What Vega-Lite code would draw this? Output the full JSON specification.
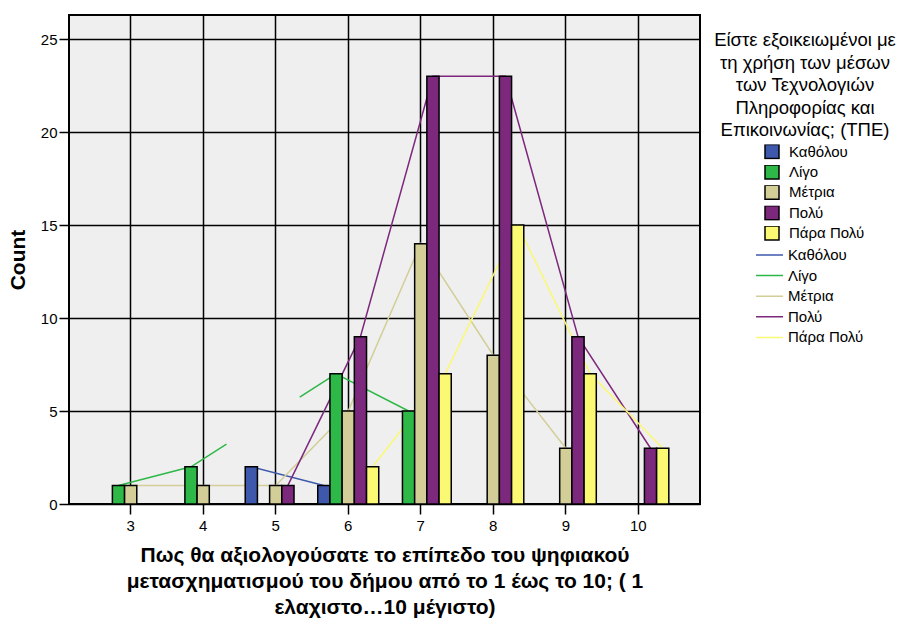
{
  "$schema": "https://vega.github.io/schema/vega-lite/v6.json",
  "width": 631,
  "height": 489,
  "autosize": {"type": "none"},
  "padding": {"left": 69, "top": 15, "right": 212, "bottom": 115},
  "background": "white",
  "config": {
    "font": "Liberation Sans",
    "view": {"fill": "#EFEFEF", "stroke": "black", "strokeWidth": 2},
    "axis": {
      "labelColor": "black",
      "labelFontSize": 15,
      "tickColor": "black",
      "tickWidth": 1.5,
      "tickSize": 10,
      "domain": false,
      "grid": true,
      "gridColor": "black",
      "gridWidth": 1.5,
      "gridOpacity": 1,
      "titleColor": "black",
      "titleFontSize": 21,
      "titleFontWeight": "bold"
    },
    "legend": {
      "labelFontSize": 15,
      "labelColor": "black",
      "titleColor": "black",
      "titleFontSize": 18.5,
      "titleFontWeight": "normal",
      "titleLimit": 400
    }
  },
  "data": {
    "values": [
      {"score": 5, "level": "Καθόλου", "count": 2},
      {"score": 6, "level": "Καθόλου", "count": 1},
      {"score": 3, "level": "Λίγο", "count": 1},
      {"score": 4, "level": "Λίγο", "count": 2},
      {"score": 6, "level": "Λίγο", "count": 7},
      {"score": 7, "level": "Λίγο", "count": 5},
      {"score": 3, "level": "Μέτρια", "count": 1},
      {"score": 4, "level": "Μέτρια", "count": 1},
      {"score": 5, "level": "Μέτρια", "count": 1},
      {"score": 6, "level": "Μέτρια", "count": 5},
      {"score": 7, "level": "Μέτρια", "count": 14},
      {"score": 8, "level": "Μέτρια", "count": 8},
      {"score": 9, "level": "Μέτρια", "count": 3},
      {"score": 5, "level": "Πολύ", "count": 1},
      {"score": 6, "level": "Πολύ", "count": 9},
      {"score": 7, "level": "Πολύ", "count": 23},
      {"score": 8, "level": "Πολύ", "count": 23},
      {"score": 9, "level": "Πολύ", "count": 9},
      {"score": 10, "level": "Πολύ", "count": 3},
      {"score": 6, "level": "Πάρα Πολύ", "count": 2},
      {"score": 7, "level": "Πάρα Πολύ", "count": 7},
      {"score": 8, "level": "Πάρα Πολύ", "count": 15},
      {"score": 9, "level": "Πάρα Πολύ", "count": 7},
      {"score": 10, "level": "Πάρα Πολύ", "count": 3}
    ]
  },
  "encoding": {
    "x": {
      "field": "score",
      "type": "ordinal",
      "scale": {"domain": [3, 4, 5, 6, 7, 8, 9, 10], "paddingInner": 0.159, "paddingOuter": 0.43},
      "axis": {
        "labelAngle": 0,
        "labelPadding": 4,
        "titlePadding": 11,
        "titleLineHeight": 26,
        "title": ["Πως θα αξιολογούσατε το επίπεδο του ψηφιακού", "μετασχηματισμού του δήμου από το 1 έως το 10; ( 1", "ελαχιστο…10 μέγιστο)"]
      }
    },
    "xOffset": {
      "field": "level",
      "type": "nominal",
      "scale": {"domain": ["Καθόλου", "Λίγο", "Μέτρια", "Πολύ", "Πάρα Πολύ"], "paddingInner": 0, "paddingOuter": 0}
    },
    "y": {
      "field": "count",
      "type": "quantitative",
      "scale": {"domain": [0, 26.3], "nice": false},
      "axis": {"values": [0, 5, 10, 15, 20, 25], "title": "Count", "labelPadding": 2, "titlePadding": 12}
    }
  },
  "layer": [
    {
      "transform": [{"filter": "datum.level !== 'Λίγο'"}],
      "mark": {"type": "line", "strokeWidth": 1.5},
      "encoding": {
        "stroke": {
          "field": "level",
          "type": "nominal",
          "scale": {"domain": ["Καθόλου", "Λίγο", "Μέτρια", "Πολύ", "Πάρα Πολύ"], "range": ["#3E58AC", "#2EB848", "#D3CE97", "#7C287D", "#FBF873"]},
          "legend": {
            "orient": "none",
            "legendX": 645,
            "legendY": 233,
            "title": null,
            "symbolType": "stroke",
            "symbolSize": 729,
            "symbolStrokeWidth": 1.5,
            "symbolOffset": 41,
            "labelOffset": 4,
            "clipHeight": 14,
            "rowPadding": 5.6
          }
        }
      }
    },
    {
      "transform": [{"filter": "datum.level === 'Λίγο'"}],
      "mark": {"type": "line", "strokeWidth": 1.5, "strokeDash": [117, 87, 400]},
      "encoding": {
        "stroke": {"field": "level", "type": "nominal"}
      }
    },
    {
      "mark": {"type": "bar", "stroke": "black", "strokeWidth": 1.5},
      "encoding": {
        "fill": {
          "field": "level",
          "type": "nominal",
          "scale": {"domain": ["Καθόλου", "Λίγο", "Μέτρια", "Πολύ", "Πάρα Πολύ"], "range": ["#3E58AC", "#2EB848", "#D3CE97", "#7C287D", "#FBF873"]},
          "legend": {
            "orient": "right",
            "offset": -2,
            "padding": 16,
            "title": ["Είστε εξοικειωμένοι με", "τη χρήση των μέσων", "των Τεχνολογιών", "Πληροφορίας και", "Επικοινωνίας; (ΤΠΕ)"],
            "titleAlign": "center",
            "titleAnchor": "middle",
            "titleLineHeight": 22.5,
            "titlePadding": 5,
            "symbolType": "square",
            "symbolSize": 196,
            "symbolStrokeColor": "black",
            "symbolStrokeWidth": 1.5,
            "symbolOffset": 19,
            "labelOffset": 9,
            "clipHeight": 14,
            "rowPadding": 5.4
          }
        }
      }
    }
  ]
}
